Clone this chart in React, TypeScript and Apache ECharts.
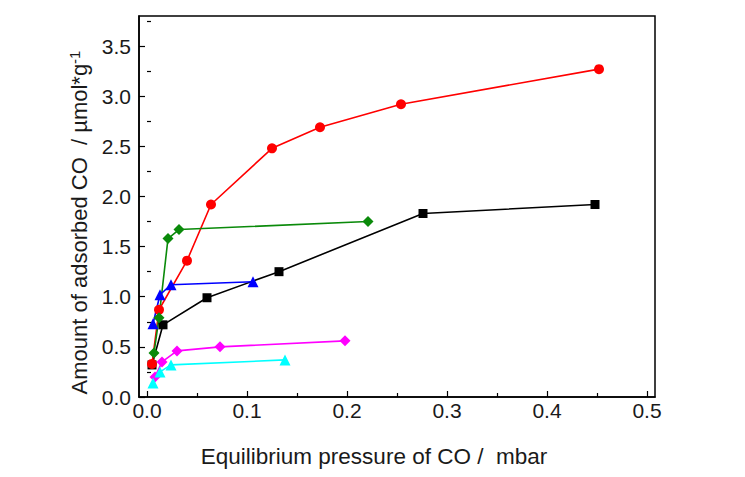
import React, { useEffect, useRef } from "react";
import * as echarts from "echarts";

const redX = [0.005, 0.012, 0.040, 0.064, 0.125, 0.173, 0.254, 0.452];
const redY = [0.33, 0.87, 1.36, 1.92, 2.48, 2.69, 2.92, 3.27];
const blackX = [0.005, 0.016, 0.060, 0.132, 0.276, 0.448];
const blackY = [0.32, 0.72, 0.99, 1.25, 1.83, 1.92];
const greenX = [0.007, 0.012, 0.021, 0.032, 0.221];
const greenY = [0.44, 0.79, 1.58, 1.67, 1.75];
const blueX = [0.006, 0.013, 0.024, 0.106];
const blueY = [0.73, 1.02, 1.12, 1.15];
const magentaX = [0.008, 0.015, 0.030, 0.073, 0.198];
const magentaY = [0.20, 0.35, 0.46, 0.50, 0.56];
const cyanX = [0.006, 0.013, 0.024, 0.138];
const cyanY = [0.14, 0.25, 0.32, 0.37];

const xMajor = [0, 0.1, 0.2, 0.3, 0.4, 0.5];
const xMinor = [0.05, 0.15, 0.25, 0.35, 0.45];
const yMajor = [0, 0.5, 1, 1.5, 2, 2.5, 3, 3.5];
const yMinor = [0.25, 0.75, 1.25, 1.75, 2.25, 2.75, 3.25, 3.75];

const pairs = (xs: number[], ys: number[]) => xs.map((x, i) => [x, ys[i]]);

const FONT = "'Liberation Sans', Arial, sans-serif";
const X_MIN = -0.008;
const X_MAX = 0.508;
const Y_MIN = 0;
const Y_MAX = 3.8;

export default function App() {
  const ref = useRef<HTMLDivElement>(null);
  useEffect(() => {
    if (!ref.current) return;
    const chart = echarts.init(ref.current, null, { renderer: "svg" });
    const mk = (name: string, xs: number[], ys: number[], color: string, symbol: string, size: number) => ({
      name,
      type: "line",
      data: pairs(xs, ys),
      symbol,
      symbolSize: size,
      showAllSymbol: true,
      lineStyle: { color, width: 1.6 },
      itemStyle: { color, borderWidth: 0 },
      z: 3,
    });
    const axisLineStyle = { color: "#000", width: 1.5 };
    chart.setOption({
      animation: false,
      backgroundColor: "#fff",
      grid: {
        left: 139,
        top: 16,
        right: 90,
        bottom: 80,
        show: true,
        borderColor: "#000",
        borderWidth: 1.5,
        backgroundColor: "transparent",
      },
      xAxis: [
        {
          type: "value",
          min: X_MIN,
          max: X_MAX,
          position: "bottom",
          axisLine: { show: true, onZero: false, lineStyle: axisLineStyle },
          axisTick: { show: true, inside: true, length: 6, customValues: xMajor, lineStyle: { color: "#000", width: 1.2 } },
          axisLabel: {
            customValues: xMajor,
            formatter: (v: number) => v.toFixed(1),
            fontFamily: FONT,
            fontSize: 21,
            color: "#1a1a1a",
            margin: 3,
          },
          splitLine: { show: false },
          name: "Equilibrium pressure of CO /  mbar",
          nameLocation: "middle",
          nameGap: 48,
          nameTextStyle: { fontFamily: FONT, fontSize: 22.5, color: "#1a1a1a", padding: [0, 46, 0, 0] },
        },
        {
          type: "value",
          min: X_MIN,
          max: X_MAX,
          position: "bottom",
          axisLine: { show: false },
          axisTick: { show: true, inside: true, length: 4, customValues: xMinor, lineStyle: { color: "#000", width: 1.2 } },
          axisLabel: { show: false },
          splitLine: { show: false },
        },
      ],
      yAxis: [
        {
          type: "value",
          min: Y_MIN,
          max: Y_MAX,
          position: "left",
          axisLine: { show: true, onZero: false, lineStyle: axisLineStyle },
          axisTick: { show: true, inside: true, length: 6, customValues: yMajor, lineStyle: { color: "#000", width: 1.2 } },
          axisLabel: {
            customValues: yMajor,
            formatter: (v: number) => v.toFixed(1),
            fontFamily: FONT,
            fontSize: 21,
            color: "#1a1a1a",
            margin: 8,
          },
          splitLine: { show: false },
          name: "Amount of adsorbed CO  / µmol*g{sup|-1}",
          nameLocation: "middle",
          nameGap: 41,
          nameTextStyle: {
            fontFamily: FONT,
            fontSize: 22,
            color: "#1a1a1a",
            padding: [0, 32, 0, 0],
            rich: {
              sup: { fontFamily: FONT, fontSize: 15, color: "#1a1a1a", padding: [0, 0, 11, 0] },
            },
          },
        },
        {
          type: "value",
          min: Y_MIN,
          max: Y_MAX,
          position: "left",
          axisLine: { show: false },
          axisTick: { show: true, inside: true, length: 4, customValues: yMinor, lineStyle: { color: "#000", width: 1.2 } },
          axisLabel: { show: false },
          splitLine: { show: false },
        },
      ],
      series: [
        mk("black", blackX, blackY, "#000000", "rect", 9),
        mk("red", redX, redY, "#ff0000", "circle", 10),
        mk("green", greenX, greenY, "#0a8a0a", "diamond", 11),
        mk("blue", blueX, blueY, "#0000ff", "triangle", 11),
        mk("magenta", magentaX, magentaY, "#ff00ff", "diamond", 11),
        mk("cyan", cyanX, cyanY, "#00ffff", "triangle", 11),
      ],
    });
    return () => chart.dispose();
  }, []);
  return <div ref={ref} style={{ width: 745, height: 477, position: "absolute", left: 0, top: 0 }} />;
}
